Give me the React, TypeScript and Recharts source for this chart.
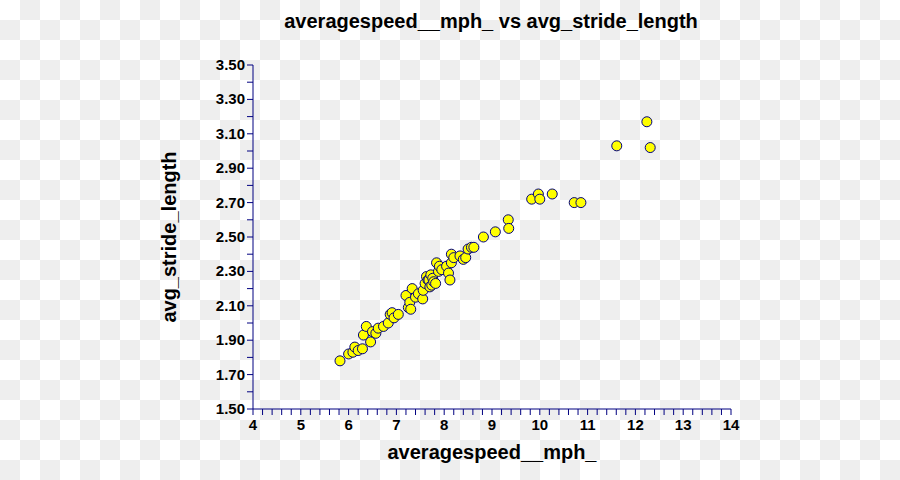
import { Scatter, ScatterChart, XAxis, YAxis } from "recharts";

// averagespeed__mph_ values
const speed = [
  5.82, 6.0, 6.09, 6.13, 6.2, 6.29, 6.31, 6.37, 6.46, 6.5, 6.57, 6.62, 6.73,
  6.83, 6.87, 6.91, 6.95, 7.04, 7.2, 7.25, 7.28, 7.3, 7.33, 7.4, 7.46, 7.55,
  7.56, 7.6, 7.63, 7.66, 7.68, 7.7, 7.72, 7.74, 7.76, 7.78, 7.82, 7.84, 7.88,
  7.9, 7.95, 8.05, 8.09, 8.12, 8.15, 8.15, 8.2, 8.33, 8.4, 8.45, 8.5, 8.57,
  8.62, 8.82, 9.07, 9.34, 9.35, 9.83, 9.97, 10.0, 10.26, 10.72, 10.86, 11.61,
  12.24, 12.31,
];

// avg_stride_length values, same order
const stride = [
  1.78, 1.82, 1.83, 1.86, 1.84, 1.85, 1.93, 1.98, 1.89, 1.95, 1.94, 1.97, 1.98,
  2.0, 2.05, 2.06, 2.03, 2.05, 2.16, 2.09, 2.12, 2.08, 2.2, 2.15, 2.17, 2.14,
  2.19, 2.23, 2.27, 2.25, 2.25, 2.21, 2.28, 2.22, 2.26, 2.24, 2.23, 2.35, 2.3,
  2.33, 2.31, 2.33, 2.29, 2.25, 2.4, 2.35, 2.38, 2.39, 2.37, 2.38, 2.43, 2.44,
  2.44, 2.5, 2.53, 2.6, 2.55, 2.72, 2.75, 2.72, 2.75, 2.7, 2.7, 3.03, 3.17,
  3.02,
];

const xLabels = [4, 5, 6, 7, 8, 9, 10, 11, 12, 13, 14];
const yLabels = [1.5, 1.7, 1.9, 2.1, 2.3, 2.5, 2.7, 2.9, 3.1, 3.3, 3.5];

const title = "averagespeed__mph_ vs avg_stride_length";
const xTitle = "averagespeed__mph_";
const yTitle = "avg_stride_length";

const points = speed.map((x, i) => ({ x, y: stride[i] }));

// minor ticks: 5 steps per x label, 2 per y label
const xTicks: number[] = [];
xLabels.forEach((v, i) => {
  if (i === xLabels.length - 1) xTicks.push(v);
  else for (let k = 0; k < 5; k++) xTicks.push(Math.round((v + k * 0.2) * 10) / 10);
});
const yTicks: number[] = [];
yLabels.forEach((v, i) => {
  if (i === yLabels.length - 1) yTicks.push(v);
  else for (let k = 0; k < 2; k++) yTicks.push(Math.round((v + k * 0.1) * 10) / 10);
});

const NAVY = "#000080";
const FONT = "'Liberation Sans', Arial, sans-serif";

const isLabel = (list: number[], v: number) => list.some((l) => Math.abs(l - v) < 1e-6);

function XTick(props: any) {
  const { x, y, payload } = props;
  if (!isLabel(xLabels, payload.value)) return <g />;
  return (
    <text x={x} y={y} dy={13} textAnchor="middle" fill="#000" fontSize={15} fontWeight="bold" fontFamily={FONT}>
      {payload.value}
    </text>
  );
}

function YTick(props: any) {
  const { x, y, payload } = props;
  if (!isLabel(yLabels, payload.value)) return <g />;
  return (
    <text x={x} y={y} dy={5} textAnchor="end" fill="#000" fontSize={15} fontWeight="bold" fontFamily={FONT}>
      {payload.value.toFixed(2)}
    </text>
  );
}

function Dot(props: any) {
  return <circle cx={props.cx} cy={props.cy} r={5} fill="#FFFF00" stroke={NAVY} strokeWidth={1} />;
}

export default function App() {
  return (
    <div style={{ position: "absolute", left: 0, top: 0, width: 900, height: 480 }}>
      {/* transparent-style checkerboard behind the chart */}
      <svg width={900} height={480} style={{ position: "absolute", left: 0, top: 0 }}>
        <defs>
          <pattern id="checker" width={40} height={40} patternUnits="userSpaceOnUse">
            <rect width={40} height={40} fill="#ffffff" />
            <rect x={20} y={0} width={20} height={20} fill="#eeeeee" />
            <rect x={0} y={20} width={20} height={20} fill="#eeeeee" />
          </pattern>
        </defs>
        <rect width={900} height={480} fill="url(#checker)" />
        <text x={491} y={28} textAnchor="middle" fontSize={20} fontWeight="bold" fontFamily={FONT} fill="#000">
          {title}
        </text>
      </svg>
      <div style={{ position: "absolute", left: 0, top: 0 }}>
        <ScatterChart width={900} height={480} margin={{ top: 65, right: 169, bottom: 0, left: 0 }}>
          <XAxis
            type="number"
            dataKey="x"
            domain={[4, 14]}
            ticks={xTicks}
            interval={0}
            height={71}
            tickSize={6}
            stroke={NAVY}
            tick={XTick}
            label={{
              content: ({ viewBox }: any) => (
                <text
                  x={viewBox.x + viewBox.width / 2}
                  y={459}
                  textAnchor="middle"
                  fontSize={20}
                  fontWeight="bold"
                  fontFamily={FONT}
                  fill="#000"
                >
                  {xTitle}
                </text>
              ),
            }}
          />
          <YAxis
            type="number"
            dataKey="y"
            domain={[1.5, 3.5]}
            ticks={yTicks}
            interval={0}
            width={253}
            tickSize={6}
            stroke={NAVY}
            tick={YTick}
            label={{
              content: ({ viewBox }: any) => {
                const cy = viewBox.y + viewBox.height / 2;
                return (
                  <text
                    x={176}
                    y={cy}
                    transform={`rotate(-90 176 ${cy})`}
                    textAnchor="middle"
                    fontSize={20}
                    fontWeight="bold"
                    fontFamily={FONT}
                    fill="#000"
                  >
                    {yTitle}
                  </text>
                );
              },
            }}
          />
          <Scatter data={points} shape={Dot} isAnimationActive={false} />
        </ScatterChart>
      </div>
    </div>
  );
}
